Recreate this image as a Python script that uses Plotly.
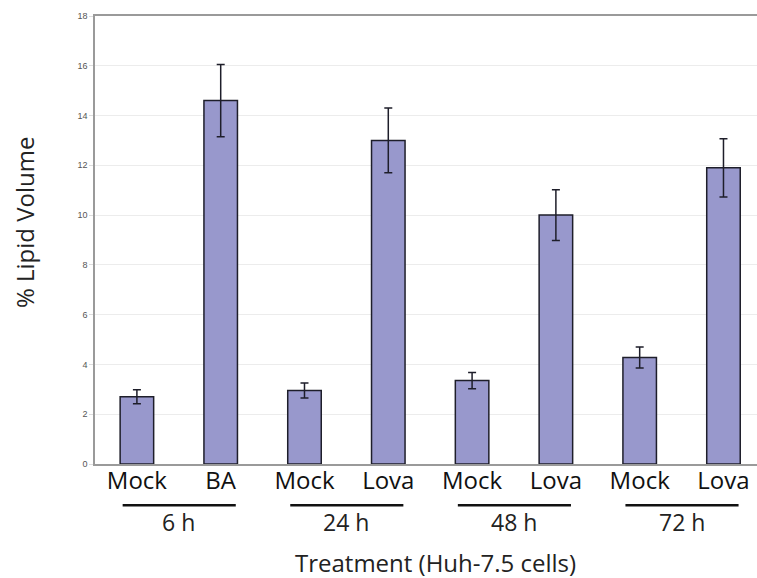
import plotly.graph_objects as go

# Lipid volume per treatment (Huh-7.5 cells)
treatments = ["Mock", "BA", "Mock", "Lova", "Mock", "Lova", "Mock", "Lova"]
lipid_volume = [2.7, 14.6, 2.95, 13.0, 3.35, 10.0, 4.28, 11.9]
lipid_error = [0.28, 1.45, 0.3, 1.3, 0.33, 1.02, 0.42, 1.17]
time_groups = ["6 h", "24 h", "48 h", "72 h"]
y_ticks = [0, 2, 4, 6, 8, 10, 12, 14, 16, 18]

positions = list(range(len(treatments)))
label_font = "Open Sans, Liberation Sans, sans-serif"

fig = go.Figure()
fig.add_trace(go.Bar(
    x=positions,
    y=lipid_volume,
    width=0.4,
    marker=dict(color="#9898cc", line=dict(color="#1e1e2a", width=1.5)),
    error_y=dict(type="data", array=lipid_error, visible=True,
                 color="#1e1e2a", thickness=1.5, width=4),
    showlegend=False,
))

# group underline and time label for each pair of bars
for g, name in enumerate(time_groups):
    left = 2 * g
    fig.add_shape(type="line", xref="x", yref="paper",
                  x0=left - 0.17, x1=left + 1.18, y0=-0.092, y1=-0.092,
                  line=dict(color="#111111", width=2.5))
    fig.add_annotation(x=left + 0.5, xref="x", y=-0.13, yref="paper",
                       text=name, showarrow=False, yanchor="middle",
                       font=dict(family=label_font, size=23, color="#222222"))

# axis titles
fig.add_annotation(x=0.515, xref="paper", y=-0.22, yref="paper",
                   text="Treatment (Huh-7.5 cells)", showarrow=False,
                   xanchor="center", yanchor="middle",
                   font=dict(family=label_font, size=24, color="#222222"))
fig.add_annotation(x=(24 - 95) / 662, xref="paper", y=0.54, yref="paper",
                   text="% Lipid Volume", showarrow=False, textangle=-90,
                   xanchor="center", yanchor="middle",
                   font=dict(family=label_font, size=24, color="#222222"))

fig.update_layout(
    width=757, height=578,
    margin=dict(l=95, r=0, t=16, b=114),
    paper_bgcolor="white", plot_bgcolor="white",
    xaxis=dict(
        range=[-0.5, 7.4],
        tickmode="array", tickvals=positions, ticktext=treatments,
        tickfont=dict(family=label_font, size=24, color="#111111"),
        ticks="", ticklabelstandoff=-6, showgrid=False,
        showline=True, linecolor="#9a9a9a", linewidth=1.5, mirror=True,
    ),
    yaxis=dict(
        range=[0, 18], tickmode="array", tickvals=y_ticks,
        tickfont=dict(family="Liberation Sans, Arial, sans-serif", size=9, color="#555555"),
        ticks="outside", ticklen=4, tickcolor="#dddddd",
        showgrid=True, gridcolor="#ececec", gridwidth=1,
        showline=True, linecolor="#9a9a9a", linewidth=1.5,
        zeroline=False,
    ),
)

fig.write_html("out.html")
